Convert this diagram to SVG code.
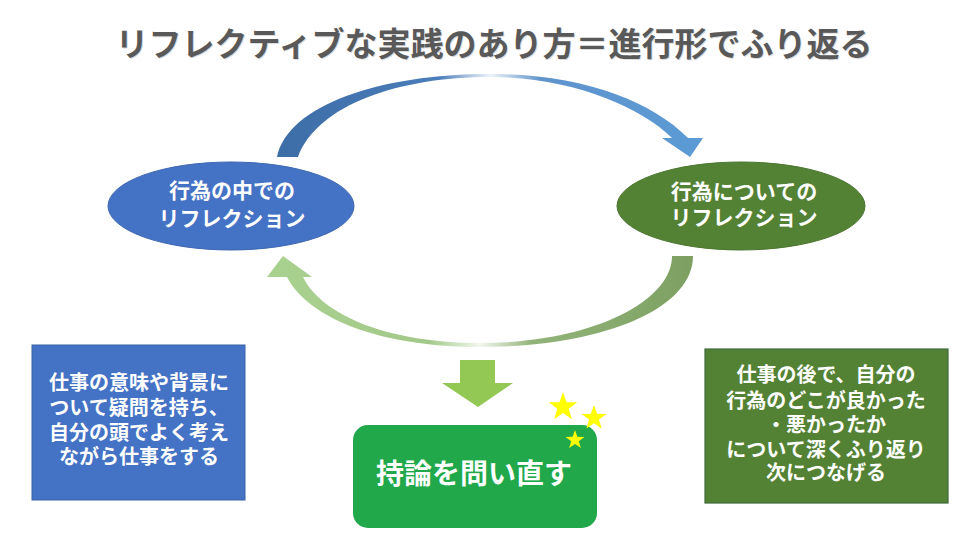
<svg xmlns="http://www.w3.org/2000/svg" width="980" height="551" viewBox="0 0 980 551">
<defs>
<style>
.t{font-family:"Noto Sans CJK JP","Noto Sans CJK SC",sans-serif;font-weight:bold;fill:#ffffff;text-anchor:middle}
.title{font-family:"Noto Sans CJK JP","Noto Sans CJK SC",sans-serif;font-weight:bold;fill:#595959;text-anchor:middle;font-size:33px}
.star{fill:#ffff00}
</style>
<linearGradient id="gBlue" x1="277" y1="0" x2="703" y2="0" gradientUnits="userSpaceOnUse">
<stop offset="0" stop-color="#3d6da6"/>
<stop offset="0.38" stop-color="#4a7dba"/>
<stop offset="0.5" stop-color="#eef4fa"/>
<stop offset="0.62" stop-color="#5f93cc"/>
<stop offset="1" stop-color="#5b9bd5"/>
</linearGradient>
<linearGradient id="gGreen" x1="267" y1="0" x2="693" y2="0" gradientUnits="userSpaceOnUse">
<stop offset="0" stop-color="#a9d18e"/>
<stop offset="0.38" stop-color="#a3c98a"/>
<stop offset="0.5" stop-color="#f2f7ee"/>
<stop offset="0.62" stop-color="#92b47a"/>
<stop offset="1" stop-color="#7da062"/>
</linearGradient>
<path id="starShape" d="M0,-1 L0.235,-0.324 L0.951,-0.309 L0.38,0.124 L0.588,0.809 L0,0.4 L-0.588,0.809 L-0.38,0.124 L-0.951,-0.309 L-0.235,-0.324 Z"/>
</defs>
<rect width="980" height="551" fill="#ffffff"/>
<g id="title">
<text class="title" x="495" y="57" fill-opacity="0.35" style="fill:#9a9a9a">リフレクティブな実践のあり方＝進行形でふり返る</text>
<text class="title" x="494" y="56">リフレクティブな実践のあり方＝進行形でふり返る</text>
</g>
<g id="connectors">
<path id="arcTop" fill="url(#gBlue)" d="M277,157 C288,105 380,74 490,74 C580,74 650,100 688,138 L703,138 L690,157 L662,138 L672,138 C640,106 570,77 490,77 C400,77 318,104 298,157 Z"/>
<path id="arcBottom" fill="url(#gGreen)" d="M693,256 C693,310 600,347 480,347 C380,347 308,318 287,277 L267,277 L283,256 L312,277 L303,277 C322,316 390,343 480,343 C590,343 672,302 672,256 Z"/>
<path id="downArrow" fill="#8cc152" d="M460,360 L495,360 L495,383 L513,383 L478,407 L442,383 L460,383 Z" style="fill:#92c853"/>
</g>
<g id="node-left-ellipse">
<ellipse cx="231" cy="206" rx="123" ry="44" fill="#4472c4" stroke="#3f68b2" stroke-width="1"/>
<text class="t" x="232" y="198" font-size="21">行為の中での</text>
<text class="t" x="232" y="226" font-size="21">リフレクション</text>
</g>
<g id="node-right-ellipse">
<ellipse cx="741" cy="206" rx="124" ry="44" fill="#548235" stroke="#4b752f" stroke-width="1"/>
<text class="t" x="744" y="199" font-size="21">行為についての</text>
<text class="t" x="744" y="225" font-size="21">リフレクション</text>
</g>
<g id="node-left-box">
<rect x="32" y="345" width="213" height="155" fill="#4472c4" stroke="#3a62a8" stroke-width="1"/>
<text class="t" x="139" y="390" font-size="20">仕事の意味や背景に</text>
<text class="t" x="139" y="415" font-size="20">ついて疑問を持ち、</text>
<text class="t" x="139" y="440" font-size="20">自分の頭でよく考え</text>
<text class="t" x="139" y="464" font-size="20">ながら仕事をする</text>
</g>
<g id="node-right-box">
<rect x="705" y="349" width="243" height="154" fill="#548235" stroke="#3f6a3a" stroke-width="1.2"/>
<text class="t" x="826" y="382" font-size="20">仕事の後で、自分の</text>
<text class="t" x="826" y="408" font-size="20">行為のどこが良かった</text>
<text class="t" x="826" y="432" font-size="20">・悪かったか</text>
<text class="t" x="826" y="457" font-size="20">について深くふり返り</text>
<text class="t" x="826" y="480" font-size="20">次につなげる</text>
</g>
<g id="node-center-box">
<rect x="353" y="425" width="244" height="103" rx="15" ry="15" fill="#20a84a"/>
<text class="t" x="474" y="484" font-size="28">持論を問い直す</text>
</g>
<g id="stars">
<use href="#starShape" class="star" transform="translate(563,407) scale(15)"/>
<use href="#starShape" class="star" transform="translate(594,418) scale(13)"/>
<use href="#starShape" class="star" transform="translate(575,440) scale(10)"/>
</g>
</svg>
